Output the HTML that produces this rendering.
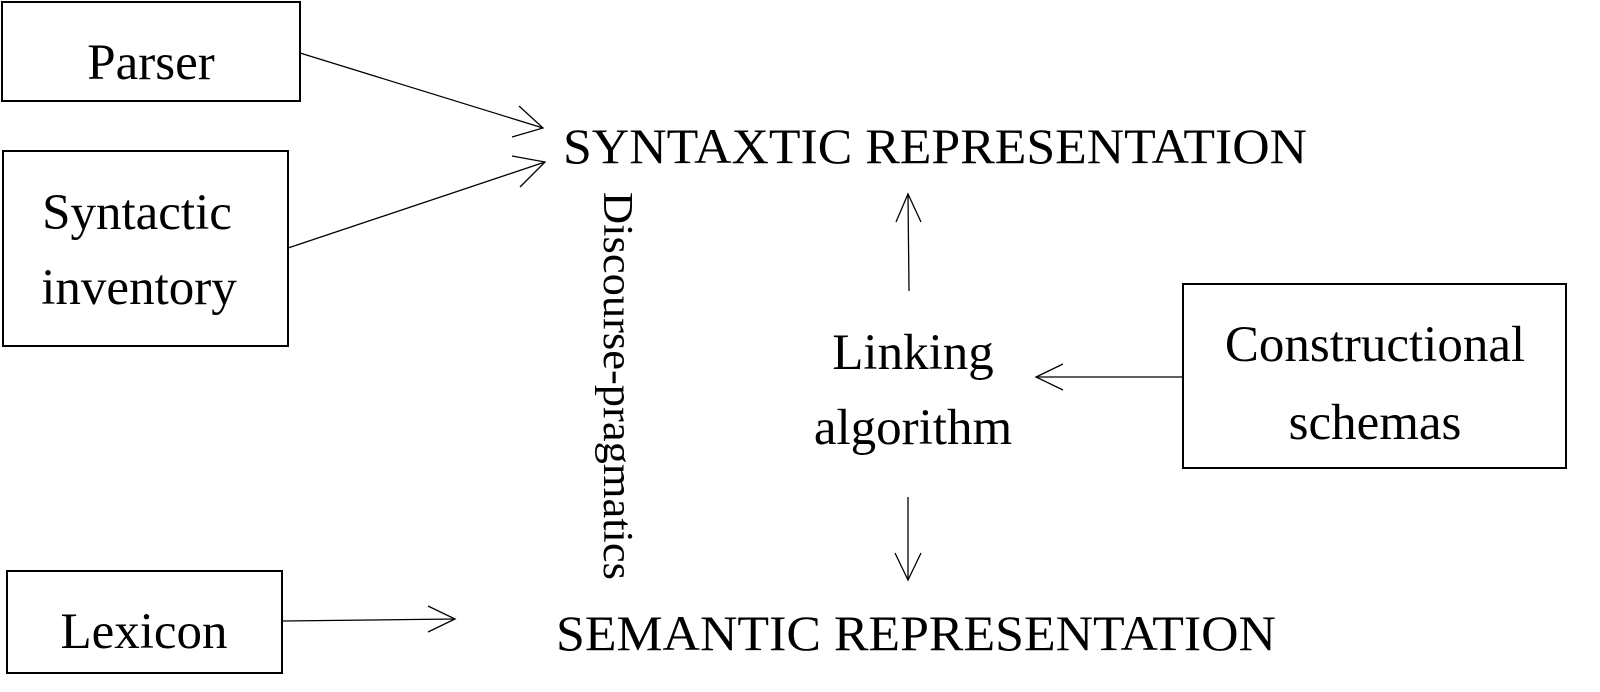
<!DOCTYPE html>
<html><head><style>body{margin:0;background:#fff}</style></head><body>
<svg width="1600" height="687" viewBox="0 0 1600 687" xmlns="http://www.w3.org/2000/svg" font-family="Liberation Serif, serif" fill="#000">
<g fill="none" stroke="#000" stroke-width="2">
<rect x="2" y="2" width="298" height="99"/>
<rect x="3" y="151" width="285" height="195"/>
<rect x="7" y="571" width="275" height="102"/>
<rect x="1183" y="284" width="383" height="184"/>
</g>
<g fill="none" stroke="#000" stroke-width="1.3">
<line x1="300" y1="53" x2="543" y2="128"/><polyline points="519,106 543,128 512,137"/>
<line x1="288" y1="248" x2="545" y2="162"/><polyline points="512,156 545,162 520,187"/>
<line x1="909" y1="291" x2="908" y2="194"/><polyline points="896,222 908,194 921,222"/>
<line x1="908" y1="497" x2="908" y2="580"/><polyline points="895,553 908,580 921,553"/>
<line x1="1183" y1="377" x2="1036" y2="377"/><polyline points="1063,364 1036,377 1063,390"/>
<line x1="283" y1="621" x2="455" y2="619"/><polyline points="428,606 455,619 428,632"/>
</g>
<g font-size="51" text-anchor="middle">
<text x="151" y="79">Parser</text>
<text x="137" y="229">Syntactic</text>
<text x="139" y="304">inventory</text>
<text x="144" y="648">Lexicon</text>
<text x="913" y="369">Linking</text>
<text x="913" y="444">algorithm</text>
<text x="1375" y="361">Constructional</text>
<text x="1375" y="439">schemas</text>
</g>
<text x="563" y="163" font-size="50" textLength="744" lengthAdjust="spacingAndGlyphs">SYNTAXTIC REPRESENTATION</text>
<text x="556" y="650" font-size="50" textLength="720" lengthAdjust="spacingAndGlyphs">SEMANTIC REPRESENTATION</text>
<text transform="translate(604,192) rotate(90)" font-size="42" textLength="388" lengthAdjust="spacingAndGlyphs">Discourse-pragmatics</text>
</svg>
</body></html>
